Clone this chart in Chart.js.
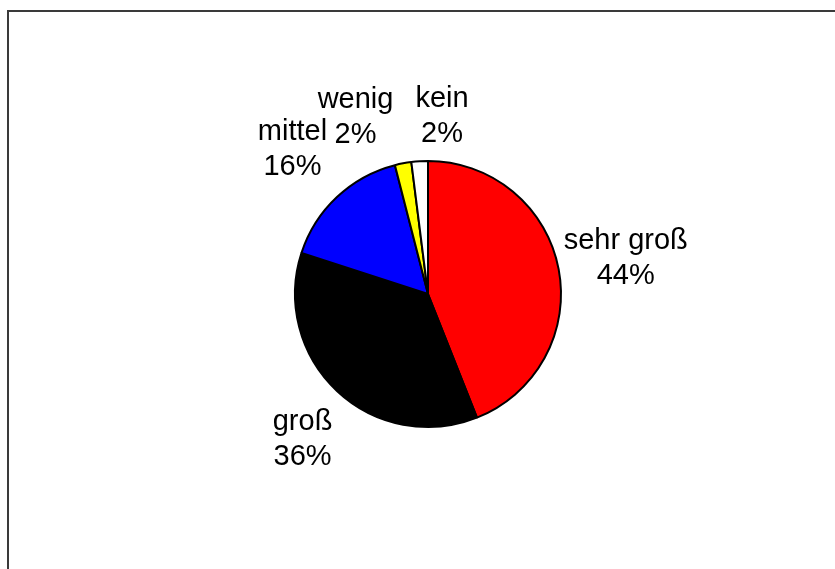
<!DOCTYPE html>
<html>
<head>
<meta charset="utf-8">
<script src="https://cdn.jsdelivr.net/npm/chart.js@4/dist/chart.umd.min.js"></script>
<style>
  html, body { margin: 0; padding: 0; background: #fff; overflow: hidden; }
  #wrap { position: relative; width: 835px; height: 569px; }
  #frame { position: absolute; left: 7px; top: 10px; width: 900px; height: 700px;
           border-top: 2px solid #3a3a3a; border-left: 2px solid #3a3a3a; }
  canvas { position: absolute; left: 0; top: 0; }
</style>
</head>
<body>
<div id="wrap">
  <div id="frame"></div>
  <canvas id="chart" width="835" height="569"></canvas>
</div>
<script>
// Datenreihe
var categories = ['sehr groß', 'groß', 'mittel', 'wenig', 'kein'];
var shares = [44, 36, 16, 2, 2];
var sliceColors = ['#ff0000', '#000000', '#0000ff', '#ffff00', '#ffffff'];

// label placement tweaks so the small slices do not overlap
var labelAngleShift = [0.5, -2.4, 0, -11.5, 8.1];   // degrees
var labelGap = [68, 59, 65, 58, 45.5];              // px beyond the rim

var pieLabels = {
    id: 'pieLabels',
    afterDatasetsDraw: function(chart) {
        var ctx = chart.ctx;
        var meta = chart.getDatasetMeta(0);
        var total = shares.reduce(function(a, b) { return a + b; }, 0);
        ctx.save();
        ctx.font = '29px "Liberation Sans", Arial, sans-serif';
        ctx.fillStyle = '#000';
        ctx.textAlign = 'center';
        ctx.textBaseline = 'middle';
        meta.data.forEach(function(arc, i) {
            var p = arc.getProps(['x', 'y', 'startAngle', 'endAngle', 'outerRadius'], true);
            var mid = (p.startAngle + p.endAngle) / 2 + labelAngleShift[i] * Math.PI / 180;
            var dist = p.outerRadius + labelGap[i];
            var cx = p.x + Math.cos(mid) * dist;
            var cy = p.y + Math.sin(mid) * dist;
            var pct = Math.round(shares[i] / total * 100) + '%';
            ctx.fillText(categories[i], cx, cy - 17.5);
            ctx.fillText(pct, cx, cy + 17.5);
        });
        ctx.restore();
    }
};

var ctx = document.getElementById('chart').getContext('2d');
var myChart = new Chart(ctx, {
    type: 'pie',
    data: {
        labels: categories,
        datasets: [{
            data: shares,
            backgroundColor: sliceColors,
            borderColor: '#000',
            borderWidth: 2
        }]
    },
    options: {
        responsive: false,
        animation: false,
        layout: { padding: { top: 160, bottom: 141, left: 21, right: 0 } },
        plugins: {
            legend: { display: false },
            tooltip: { enabled: false }
        }
    },
    plugins: [pieLabels]
});
</script>
</body>
</html>
